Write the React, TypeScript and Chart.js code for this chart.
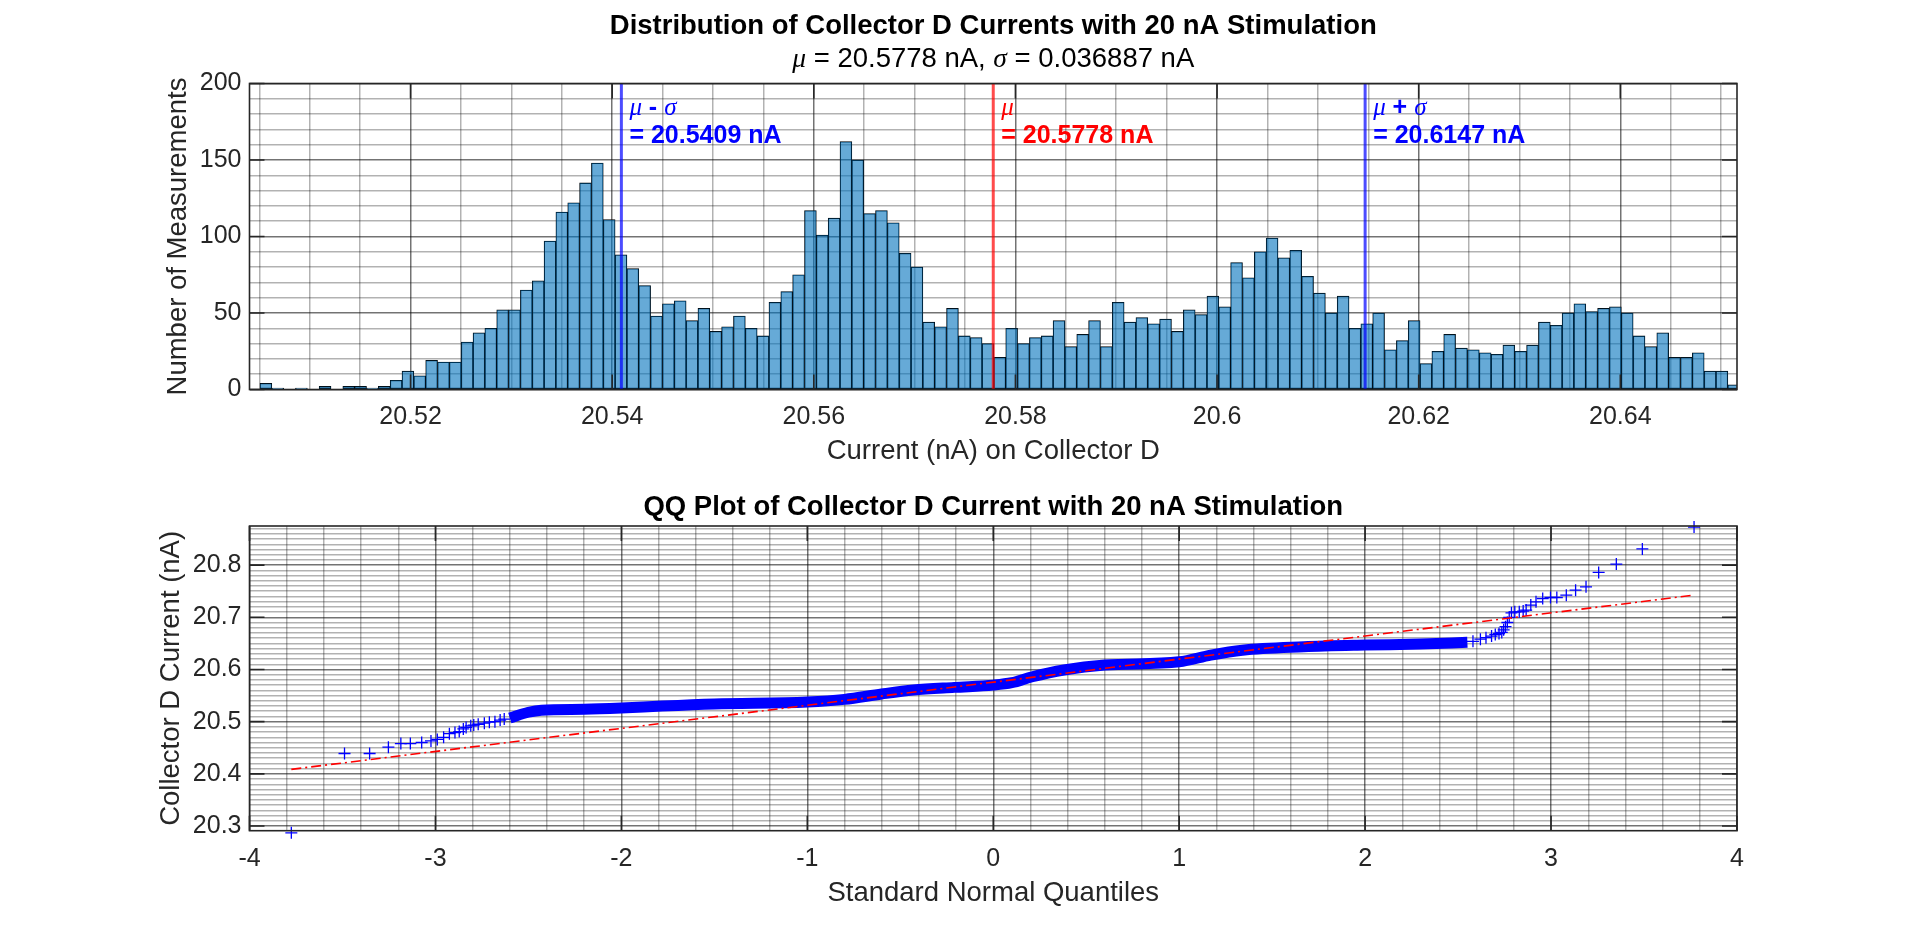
import { useEffect, useRef } from "react"
import { Chart, registerables } from "chart.js"

Chart.register(...registerables)

const SANS = "'Liberation Sans', Arial, Helvetica, sans-serif"
const TEX = "'Liberation Serif', 'Times New Roman', serif"
const AXIS_COLOR = "#262626"
const MAJOR_GRID = "rgba(0,0,0,0.55)"
const MINOR_GRID = "rgba(0,0,0,0.3)"

Chart.defaults.font.family = SANS
Chart.defaults.color = AXIS_COLOR

// summary statistics (nA)
const MU = 20.5778
const SIGMA = 0.036887

// histogram bins: first edge + width (nA), counts
const binStart = 20.50389
const binWidth = 0.0011742
const binCounts = [
  0, 4, 1, 0, 1, 0, 2, 0, 2, 2, 1, 2, 6, 12, 9, 19, 18, 18, 31, 37,
  40, 52, 52, 65, 71, 97, 116, 122, 135, 148, 111, 88, 79, 68, 48, 56, 58, 45, 53, 38,
  41, 48, 40, 35, 57, 64, 75, 117, 101, 112, 162, 150, 115, 117, 109, 89, 80, 44, 41, 53,
  35, 34, 30, 21, 40, 30, 34, 35, 45, 28, 36, 45, 28, 57, 44, 47, 43, 46, 38, 52,
  49, 61, 54, 83, 73, 90, 99, 86, 91, 74, 63, 50, 61, 40, 43, 50, 26, 32, 45, 17,
  25, 36, 27, 26, 24, 23, 29, 25, 29, 44, 42, 50, 56, 51, 53, 54, 50, 35, 28, 37,
  21, 21, 24, 12, 12, 3,
]
const histXTicks = [20.52, 20.54, 20.56, 20.58, 20.6, 20.62, 20.64]
const histYTicks = [0, 50, 100, 150, 200]

// QQ plot: dense part of the curve (drawn as a thick band)
const qqBandX = [-2.6, -2.5, -2.43, -2.2, -2.0, -1.78, -1.5, -1.0, -0.8, -0.6, -0.43, -0.21, 0, 0.1, 0.21, 0.38, 0.6, 1.0, 1.17, 1.34, 1.67, 2.0, 2.3, 2.55]
const qqBandY = [20.507, 20.518, 20.522, 20.5236, 20.526, 20.53, 20.534, 20.5376, 20.5427, 20.553, 20.5605, 20.5657, 20.57, 20.5746, 20.586, 20.599, 20.6084, 20.6148, 20.6276, 20.637, 20.6435, 20.6467, 20.6487, 20.652]
// QQ plot: individual tail markers
const qqTailX = [
  -3.775, -3.489, -3.354, -3.253, -3.186, -3.135, -3.074, -3.024, -2.99, -2.956, -2.925, -2.895,
  -2.872, -2.85, -2.835, -2.81, -2.794, -2.77, -2.737, -2.71, -2.68, -2.652, -2.63,
  2.58, 2.62, 2.65, 2.68, 2.7, 2.72, 2.735, 2.745, 2.755, 2.765, 2.775, 2.787, 2.805, 2.829,
  2.85, 2.866, 2.891, 2.919, 2.955, 2.997, 3.031, 3.082, 3.132, 3.188, 3.256, 3.351, 3.491, 3.769,
]
const qqTailY = [
  20.287, 20.439, 20.439, 20.451, 20.458, 20.458, 20.46, 20.463, 20.466, 20.47, 20.477, 20.479,
  20.481, 20.486, 20.489, 20.492, 20.4935, 20.495, 20.497, 20.499, 20.5, 20.503, 20.505,
  20.654, 20.658, 20.661, 20.664, 20.667, 20.669, 20.671, 20.676, 20.682, 20.69, 20.7, 20.7086, 20.7105, 20.7105,
  20.712, 20.7138, 20.7234, 20.7297, 20.736, 20.738, 20.738, 20.7425, 20.752, 20.7584, 20.786, 20.802, 20.831, 20.873,
]
// QQ reference line (through the quartiles)
const refLineX = [-3.775, 3.769]
const refLineY = [20.4086, 20.7425]
const qqXTicks = [-4, -3, -2, -1, 0, 1, 2, 3, 4]
const qqYTicks = [20.3, 20.4, 20.5, 20.6, 20.7, 20.8]
const qqYMin = 20.291
const qqYMax = 20.875

function gridValues(from: number, to: number, step: number) {
  const out: number[] = []
  const n = Math.round((to - from) / step)
  for (let i = 0; i <= n; i++) out.push(+(from + i * step).toFixed(6))
  return out
}

const isMajor = (v: number, majors: number[]) => majors.some((m) => Math.abs(m - v) < 1e-6)

function linearAxis(min: number, max: number, grid: number[], majors: number[], fmt: (v: number) => string) {
  return {
    type: "linear" as const,
    min,
    max,
    bounds: "data" as const,
    offset: false,
    afterBuildTicks: (scale: any) => {
      scale.ticks = grid.map((value) => ({ value }))
    },
    ticks: {
      autoSkip: false,
      maxRotation: 0,
      minRotation: 0,
      color: AXIS_COLOR,
      font: { size: 25 },
      callback: (v: any) => (isMajor(+v, majors) ? fmt(+v) : ""),
    },
    grid: {
      offset: false,
      drawTicks: false,
      lineWidth: 1.5,
      color: (c: any) => (c.tick && isMajor(c.tick.value, majors) ? MAJOR_GRID : MINOR_GRID),
    },
    border: { display: false },
  }
}

// MATLAB-like box with inward tick marks on all four sides
const axesBox = (xMajors: number[], yMajors: number[]) => ({
  id: "axesBox",
  afterDatasetsDraw(chart: any) {
    const { ctx, chartArea, scales } = chart
    const { left, right, top, bottom } = chartArea
    const len = 15
    ctx.save()
    ctx.strokeStyle = AXIS_COLOR
    ctx.lineWidth = 1.6
    ctx.beginPath()
    xMajors.forEach((v) => {
      const px = scales.x.getPixelForValue(v)
      ctx.moveTo(px, bottom)
      ctx.lineTo(px, bottom - len)
      ctx.moveTo(px, top)
      ctx.lineTo(px, top + len)
    })
    yMajors.forEach((v) => {
      const py = scales.y.getPixelForValue(v)
      ctx.moveTo(left, py)
      ctx.lineTo(left + len, py)
      ctx.moveTo(right, py)
      ctx.lineTo(right - len, py)
    })
    ctx.stroke()
    ctx.strokeRect(left, top, right - left, bottom - top)
    ctx.restore()
  },
})

type Run = { text: string; font: string }

function drawRuns(ctx: CanvasRenderingContext2D, runs: Run[], x: number, y: number, align: "left" | "center") {
  let total = 0
  runs.forEach((r) => {
    ctx.font = r.font
    total += ctx.measureText(r.text).width
  })
  let cx = align === "center" ? x - total / 2 : x
  ctx.textAlign = "left"
  ctx.textBaseline = "middle"
  runs.forEach((r) => {
    ctx.font = r.font
    ctx.fillText(r.text, cx, y)
    cx += ctx.measureText(r.text).width
  })
}

const refMarkers = [
  { value: MU - SIGMA, line: "rgba(0,0,255,0.7)", text: "#0000ff", sign: " - " },
  { value: MU, line: "rgba(255,0,0,0.7)", text: "#ff0000", sign: "" },
  { value: MU + SIGMA, line: "rgba(0,0,255,0.7)", text: "#0000ff", sign: " + " },
]

const histAnnotations = {
  id: "histAnnotations",
  afterDatasetsDraw(chart: any) {
    const { ctx, chartArea, scales } = chart
    ctx.save()
    ctx.fillStyle = "#000"
    drawRuns(
      ctx,
      [
        { text: "μ", font: `italic 27.5px ${TEX}` },
        { text: ` = ${MU.toFixed(4)} nA, `, font: `27.5px ${SANS}` },
        { text: "σ", font: `italic 27.5px ${TEX}` },
        { text: ` = ${SIGMA} nA`, font: `27.5px ${SANS}` },
      ],
      (chartArea.left + chartArea.right) / 2,
      chartArea.top - 24,
      "center"
    )
    refMarkers.forEach((m) => {
      const x = scales.x.getPixelForValue(m.value) + 8
      ctx.fillStyle = m.text
      const head: Run[] = [{ text: "μ", font: `italic 25px ${TEX}` }]
      if (m.sign) {
        head.push({ text: m.sign, font: `bold 25px ${SANS}` })
        head.push({ text: "σ", font: `italic 25px ${TEX}` })
      }
      drawRuns(ctx, head, x, chartArea.top + 24.5, "left")
      drawRuns(ctx, [{ text: `= ${m.value.toFixed(4)} nA`, font: `bold 25px ${SANS}` }], x, chartArea.top + 53, "left")
    })
    ctx.restore()
  },
}

export default function App() {
  const histRef = useRef<HTMLCanvasElement>(null)
  const qqRef = useRef<HTMLCanvasElement>(null)

  useEffect(() => {
    if (!histRef.current || !qqRef.current) return

    const histX = linearAxis(MU - 2 * SIGMA, MU + 2 * SIGMA, gridValues(20.505, 20.65, 0.005), histXTicks, (v) => String(+v.toFixed(2)))
    const histY = linearAxis(0, 200, gridValues(0, 200, 10), histYTicks, (v) => String(v))

    const hist = new Chart(histRef.current, {
      type: "bar",
      data: {
        datasets: [
          ...refMarkers.map((m) => ({
            type: "line" as const,
            data: [
              { x: m.value, y: 0 },
              { x: m.value, y: 200 },
            ],
            borderColor: m.line,
            borderWidth: 3,
            pointRadius: 0,
          })),
          {
            type: "bar" as const,
            data: binCounts.map((c, i) => ({ x: binStart + (i + 0.5) * binWidth, y: c })),
            backgroundColor: "rgba(0,114,189,0.6)",
            borderColor: "#000",
            borderWidth: 0.6,
            borderSkipped: false,
            barPercentage: 1,
            categoryPercentage: 1,
            grouped: false,
          },
        ],
      } as any,
      options: {
        responsive: false,
        animation: false,
        events: [],
        layout: { padding: { left: 0, right: 183, top: 0, bottom: 0 } },
        plugins: {
          legend: { display: false },
          tooltip: { enabled: false },
          title: {
            display: true,
            fullSize: false,
            text: "Distribution of Collector D Currents with 20 nA Stimulation",
            color: "#000",
            font: { size: 27.5, weight: "bold" },
            padding: { top: 9.5, bottom: 41 },
          },
        },
        scales: {
          x: {
            ...histX,
            ticks: { ...histX.ticks, padding: 13 },
            afterFit: (s: any) => {
              s.height = 80.5
            },
            title: { display: true, text: "Current (nA) on Collector D", color: AXIS_COLOR, font: { size: 27.5 }, padding: { top: 0, bottom: 2 } },
          },
          y: {
            ...histY,
            ticks: { ...histY.ticks, padding: 8 },
            afterFit: (s: any) => {
              s.width = 249.5
            },
            title: { display: true, text: "Number of Measurements", color: AXIS_COLOR, font: { size: 27.5 }, padding: { top: 162, bottom: 0 } },
          },
        },
      } as any,
      plugins: [axesBox(histXTicks, histYTicks), histAnnotations],
    })

    const qqX = linearAxis(-4, 4, gridValues(-4, 4, 0.2), qqXTicks, (v) => String(v))
    const qqY = linearAxis(qqYMin, qqYMax, gridValues(20.3, 20.87, 0.01), qqYTicks, (v) => String(+v.toFixed(1)))

    const qq = new Chart(qqRef.current, {
      type: "scatter",
      data: {
        datasets: [
          {
            data: refLineX.map((x, i) => ({ x, y: refLineY[i] })),
            showLine: true,
            borderColor: "#ff0000",
            borderWidth: 1.6,
            borderDash: [10, 4, 2, 4],
            pointRadius: 0,
          },
          {
            data: qqTailX.map((x, i) => ({ x, y: qqTailY[i] })),
            pointStyle: "cross",
            pointRadius: 6,
            borderColor: "#0000ff",
            borderWidth: 1.3,
            clip: false,
          },
          {
            data: qqBandX.map((x, i) => ({ x, y: qqBandY[i] })),
            showLine: true,
            borderColor: "#0000ff",
            borderWidth: 11,
            cubicInterpolationMode: "monotone",
            pointRadius: 0,
          },
        ],
      } as any,
      options: {
        responsive: false,
        animation: false,
        events: [],
        layout: { padding: { left: 0, right: 183, top: 0, bottom: 0 } },
        plugins: {
          legend: { display: false },
          tooltip: { enabled: false },
          title: {
            display: true,
            fullSize: false,
            text: "QQ Plot of Collector D Current with 20 nA Stimulation",
            color: "#000",
            font: { size: 27.5, weight: "bold" },
            padding: { top: 20.5, bottom: 2.5 },
          },
        },
        scales: {
          x: {
            ...qqX,
            ticks: { ...qqX.ticks, padding: 13 },
            afterFit: (s: any) => {
              s.height = 105.3
            },
            title: { display: true, text: "Standard Normal Quantiles", color: AXIS_COLOR, font: { size: 27.5 }, padding: { top: 0, bottom: 26 } },
          },
          y: {
            ...qqY,
            ticks: { ...qqY.ticks, padding: 8 },
            afterFit: (s: any) => {
              s.width = 249.5
            },
            title: { display: true, text: "Collector D Current (nA)", color: AXIS_COLOR, font: { size: 27.5 }, padding: { top: 155, bottom: 0 } },
          },
        },
      } as any,
      plugins: [axesBox(qqXTicks, qqYTicks)],
    })

    return () => {
      hist.destroy()
      qq.destroy()
    }
  }, [])

  return (
    <div style={{ position: "fixed", left: 0, top: 0, width: 1920, height: 936, background: "#fff" }}>
      <canvas ref={histRef} width={1920} height={470} style={{ display: "block" }} />
      <canvas ref={qqRef} width={1920} height={466} style={{ display: "block" }} />
    </div>
  )
}
